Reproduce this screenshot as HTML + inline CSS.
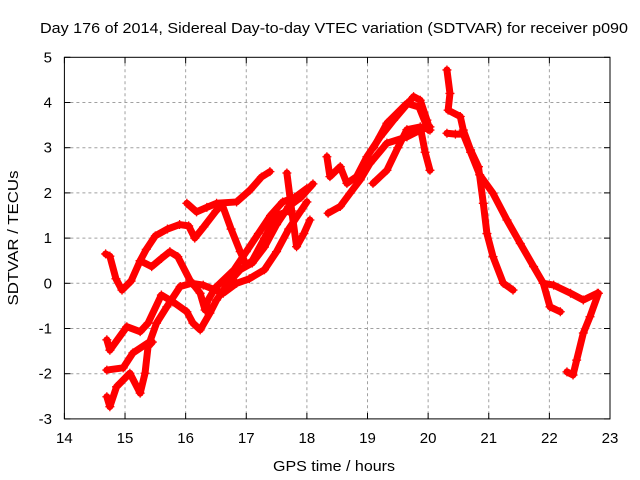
<!DOCTYPE html>
<html><head><meta charset="utf-8"><style>
body{margin:0;background:#fff;}
svg{display:block;font-family:"Liberation Sans",sans-serif;}
</style></head><body>
<svg id="chart" width="640" height="480" viewBox="0 0 640 480" xmlns="http://www.w3.org/2000/svg">
<rect width="640" height="480" fill="#fff"/>
<text x="40" y="33" font-size="15" textLength="588" lengthAdjust="spacingAndGlyphs">Day 176 of 2014, Sidereal Day-to-day VTEC variation (SDTVAR) for receiver p090</text>
<g id="grid"></g>
<g id="ticks"></g>
<g id="series"></g>
<rect x="64.4" y="57.3" width="545.6" height="361.6" fill="none" stroke="#000" stroke-width="1"/>
<text x="273" y="471" font-size="15" textLength="122" lengthAdjust="spacingAndGlyphs">GPS time / hours</text>
<text x="0" y="0" font-size="15" text-anchor="middle" textLength="135" lengthAdjust="spacingAndGlyphs" transform="translate(18,238) rotate(-90)">SDTVAR / TECUs</text>
</svg>
<script>
const xTicks=[14,15,16,17,18,19,20,21,22,23];
const yTicks=[-3,-2,-1,0,1,2,3,4,5];
const track1=[[14.68,0.65],[14.75,0.6],[14.85,0.1],[14.95,-0.15],[15.1,0.05],[15.25,0.5],[15.35,0.75],[15.5,1.05],[15.7,1.2],[15.9,1.3],[16.05,1.27],[16.15,1.0],[16.3,1.25],[16.5,1.6],[16.6,1.75],[16.75,1.2],[16.9,0.7],[17.0,0.4],[17.1,0.5],[17.3,1.0],[17.5,1.5],[17.7,1.6]];
const track2=[[16.02,1.77],[16.18,1.58],[16.35,1.68],[16.51,1.77],[16.84,1.8],[17.06,2.06],[17.25,2.35],[17.39,2.47]];
const track3=[[15.25,0.5],[15.44,0.37],[15.6,0.55],[15.74,0.7],[15.87,0.59],[16.07,0.07],[16.24,-0.22],[16.32,-0.59],[16.37,-0.37],[16.49,-0.1],[16.8,0.3],[17.0,0.7],[17.2,1.1],[17.4,1.5],[17.6,1.8],[17.8,1.9],[18.0,2.1]];
const track4=[[14.7,-1.25],[14.75,-1.48],[15.03,-0.96],[15.25,-1.07],[15.38,-0.88],[15.6,-0.26],[15.79,-0.41],[16.02,-0.63],[16.12,-0.88],[16.24,-1.03],[16.4,-0.66],[16.51,-0.37],[16.7,0.0],[16.9,0.3],[17.1,0.45],[17.3,0.8],[17.5,1.3],[17.7,1.7],[17.9,1.9],[18.1,2.2]];
const track5=[[14.7,-1.92],[14.97,-1.87],[15.13,-1.54],[15.41,-1.29],[15.52,-0.88],[15.69,-0.52],[15.91,-0.07],[16.1,0.0],[16.29,-0.04],[16.62,-0.22],[16.84,0.0],[17.05,0.1],[17.3,0.3],[17.5,0.7],[17.7,1.2],[17.9,1.6],[18.0,1.8]];
const track6=[[14.7,-2.51],[14.75,-2.73],[14.86,-2.29],[15.08,-1.99],[15.25,-2.43],[15.33,-1.99],[15.38,-1.4],[15.45,-1.3]];
const track7=[[17.67,2.44],[17.75,1.6],[17.83,0.81],[17.95,1.1],[18.05,1.4]];
const track8=[[18.33,2.8],[18.38,2.36],[18.55,2.58],[18.66,2.21],[18.82,2.36],[18.99,2.8],[19.21,3.24],[19.43,3.61],[19.76,4.13],[19.87,4.05],[19.98,3.61],[20.03,3.39]];
const track9=[[18.35,1.55],[18.55,1.7],[18.71,1.99],[18.88,2.29],[19.04,2.65],[19.32,3.1],[19.65,3.24],[19.87,3.39],[20.03,3.46]];
const track10=[[19.09,2.21],[19.32,2.5],[19.5,3.0],[19.65,3.4],[19.87,3.46],[19.95,2.9],[20.03,2.5]];
const track11=[[19.1,3.0],[19.32,3.54],[19.65,3.98],[19.85,3.9],[20.0,3.4]];
const track12=[[20.31,4.72],[20.36,4.2],[20.33,3.83],[20.53,3.69],[20.58,3.39],[20.7,2.95],[20.83,2.58],[20.91,1.77],[20.97,1.1],[21.07,0.59],[21.24,0.0],[21.4,-0.15]];
const track13=[[20.31,3.32],[20.45,3.3],[20.58,3.3],[20.7,2.9],[20.85,2.4],[21.07,1.99],[21.3,1.4],[21.52,0.88],[21.74,0.37],[21.9,0.0],[22.01,-0.52],[22.18,-0.63]];
const track14=[[21.9,0.0],[22.07,-0.04],[22.35,-0.22],[22.56,-0.37],[22.79,-0.22]];
const track15=[[22.29,-1.96],[22.39,-2.03],[22.45,-1.7],[22.56,-1.1],[22.67,-0.74],[22.81,-0.22]];
const tracks=[track1,track2,track3,track4,track5,track6,track7,track8,track9,track10,track11,track12,track13,track14,track15];

const X0=64.4,X1=610,Y0=418.9,Y1=57.3;
function xs(t){return X0+(t-14)/(23-14)*(X1-X0);}
function ys(v){return Y0-(v+3)/(5+3)*(Y0-Y1);}
const NS='http://www.w3.org/2000/svg';
function mk(tag,attrs,parent){const e=document.createElementNS(NS,tag);for(const k in attrs)e.setAttribute(k,attrs[k]);parent.appendChild(e);return e;}
const grid=document.getElementById('grid'),ticks=document.getElementById('ticks'),series=document.getElementById('series');
xTicks.forEach(t=>{
  const x=xs(t);
  if(t>14&&t<23){const g=mk('line',{x1:x,x2:x,y1:Y1,y2:Y0,stroke:'#a0a0a0','stroke-dasharray':'3,3','stroke-width':1},grid);
  
  }
  mk('line',{x1:x,x2:x,y1:Y0,y2:Y0-6,stroke:'#000'},ticks);
  mk('line',{x1:x,x2:x,y1:Y1,y2:Y1+6,stroke:'#000'},ticks);
  const l=mk('text',{x:x,y:443,'font-size':15,'text-anchor':'middle'},ticks);l.textContent=t;
  
  
});
yTicks.forEach(v=>{
  const y=ys(v);
  if(v>-3&&v<5){const g=mk('line',{x1:X0,x2:X1,y1:y,y2:y,stroke:'#a0a0a0','stroke-dasharray':'3,3','stroke-width':1},grid);
  
  }
  mk('line',{x1:X0,x2:X0+6,y1:y,y2:y,stroke:'#000'},ticks);
  mk('line',{x1:X1,x2:X1-6,y1:y,y2:y,stroke:'#000'},ticks);
  const l=mk('text',{x:52,y:y+5,'font-size':15,'text-anchor':'end'},ticks);l.textContent=v;
  
  
});
tracks.forEach((tr,i)=>{
  const pl=mk('polyline',{points:tr.map(p=>xs(p[0])+','+ys(p[1])).join(' '),fill:'none',stroke:'#ff0000','stroke-width':7,'stroke-linejoin':'round','stroke-linecap':'round'},series);
  
  
  tr.forEach(p=>{
    const x=xs(p[0]),y=ys(p[1]);
    const m=mk('path',{d:`M${x-4.5},${y}H${x+4.5}M${x},${y-4.5}V${y+4.5}`,stroke:'#ff0000','stroke-width':1.3},series);
    
    
  });
});
</script>
</body></html>
